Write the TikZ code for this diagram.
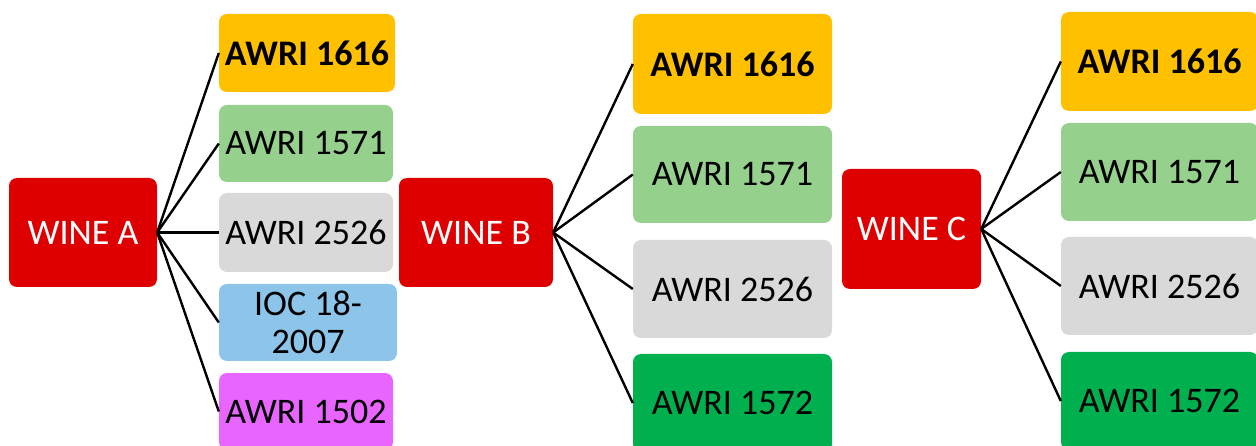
\documentclass[tikz,border=0pt]{standalone}
\usepackage{fontspec}
\setmainfont{Carlito}
\definecolor{winered}{HTML}{DE0000}
\definecolor{cOrange}{HTML}{FFC000}
\definecolor{cLgreen}{HTML}{95D18C}
\definecolor{cGray}{HTML}{D9D9D9}
\definecolor{cBlue}{HTML}{8DC5EA}
\definecolor{cMagenta}{HTML}{E866FF}
\definecolor{cGreen}{HTML}{00B04F}
\begin{document}
\begin{tikzpicture}[x=1pt,y=-1pt,
  box/.style={rectangle,rounded corners=8pt,inner sep=0pt,align=center,
    font=\fontsize{36}{38}\selectfont},
  bbox/.style={box,font=\fontsize{36}{38}\selectfont\bfseries},
  wine/.style={box,fill=winered,text=white},
  link/.style={line width=2.4pt,black}]
\useasboundingbox (0,0) rectangle (1256,446);
\clip (0,0) rectangle (1256,446);
% Wine A
\node[wine,minimum width=148pt,minimum height=109pt] (A) at (83,232.5) {WINE A};
\node[bbox,fill=cOrange,minimum width=176pt,minimum height=78pt] (A1) at (307,53) {AWRI 1616};
\node[box,fill=cLgreen,minimum width=174pt,minimum height=77pt] (A2) at (306,143.5) {AWRI 1571};
\node[box,fill=cGray,minimum width=174pt,minimum height=79pt] (A3) at (306,232.5) {AWRI 2526};
\node[box,fill=cBlue,minimum width=178pt,minimum height=77pt] (A4) at (308,322.5) {IOC 18-\\2007};
\node[box,fill=cMagenta,minimum width=174pt,minimum height=77pt] (A5) at (306,411.5) {AWRI 1502};
% Wine B
\node[wine,minimum width=154pt,minimum height=109pt] (B) at (476,232.5) {WINE B};
\node[bbox,fill=cOrange,minimum width=199pt,minimum height=100pt] (B1) at (732.5,64) {AWRI 1616};
\node[box,fill=cLgreen,minimum width=199pt,minimum height=97pt] (B2) at (732.5,174.5) {AWRI 1571};
\node[box,fill=cGray,minimum width=199pt,minimum height=98pt] (B3) at (732.5,289) {AWRI 2526};
\node[box,fill=cGreen,minimum width=199pt,minimum height=98pt] (B4) at (732.5,403) {AWRI 1572};
% Wine C
\node[wine,minimum width=139pt,minimum height=120pt] (C) at (911.5,229) {WINE C};
\node[bbox,fill=cOrange,minimum width=197pt,minimum height=99pt] (C1) at (1159.5,61.5) {AWRI 1616};
\node[box,fill=cLgreen,minimum width=197pt,minimum height=98pt] (C2) at (1159.5,172) {AWRI 1571};
\node[box,fill=cGray,minimum width=197pt,minimum height=98pt] (C3) at (1159.5,286) {AWRI 2526};
\node[box,fill=cGreen,minimum width=197pt,minimum height=98pt] (C4) at (1159.5,401) {AWRI 1572};
% links
\foreach \p/\n in {A/5,B/4,C/4}{
  \foreach \i in {1,...,\n}{
    \draw[link] (\p.east) -- (\p\i.west);
  }
}
\end{tikzpicture}
\end{document}
